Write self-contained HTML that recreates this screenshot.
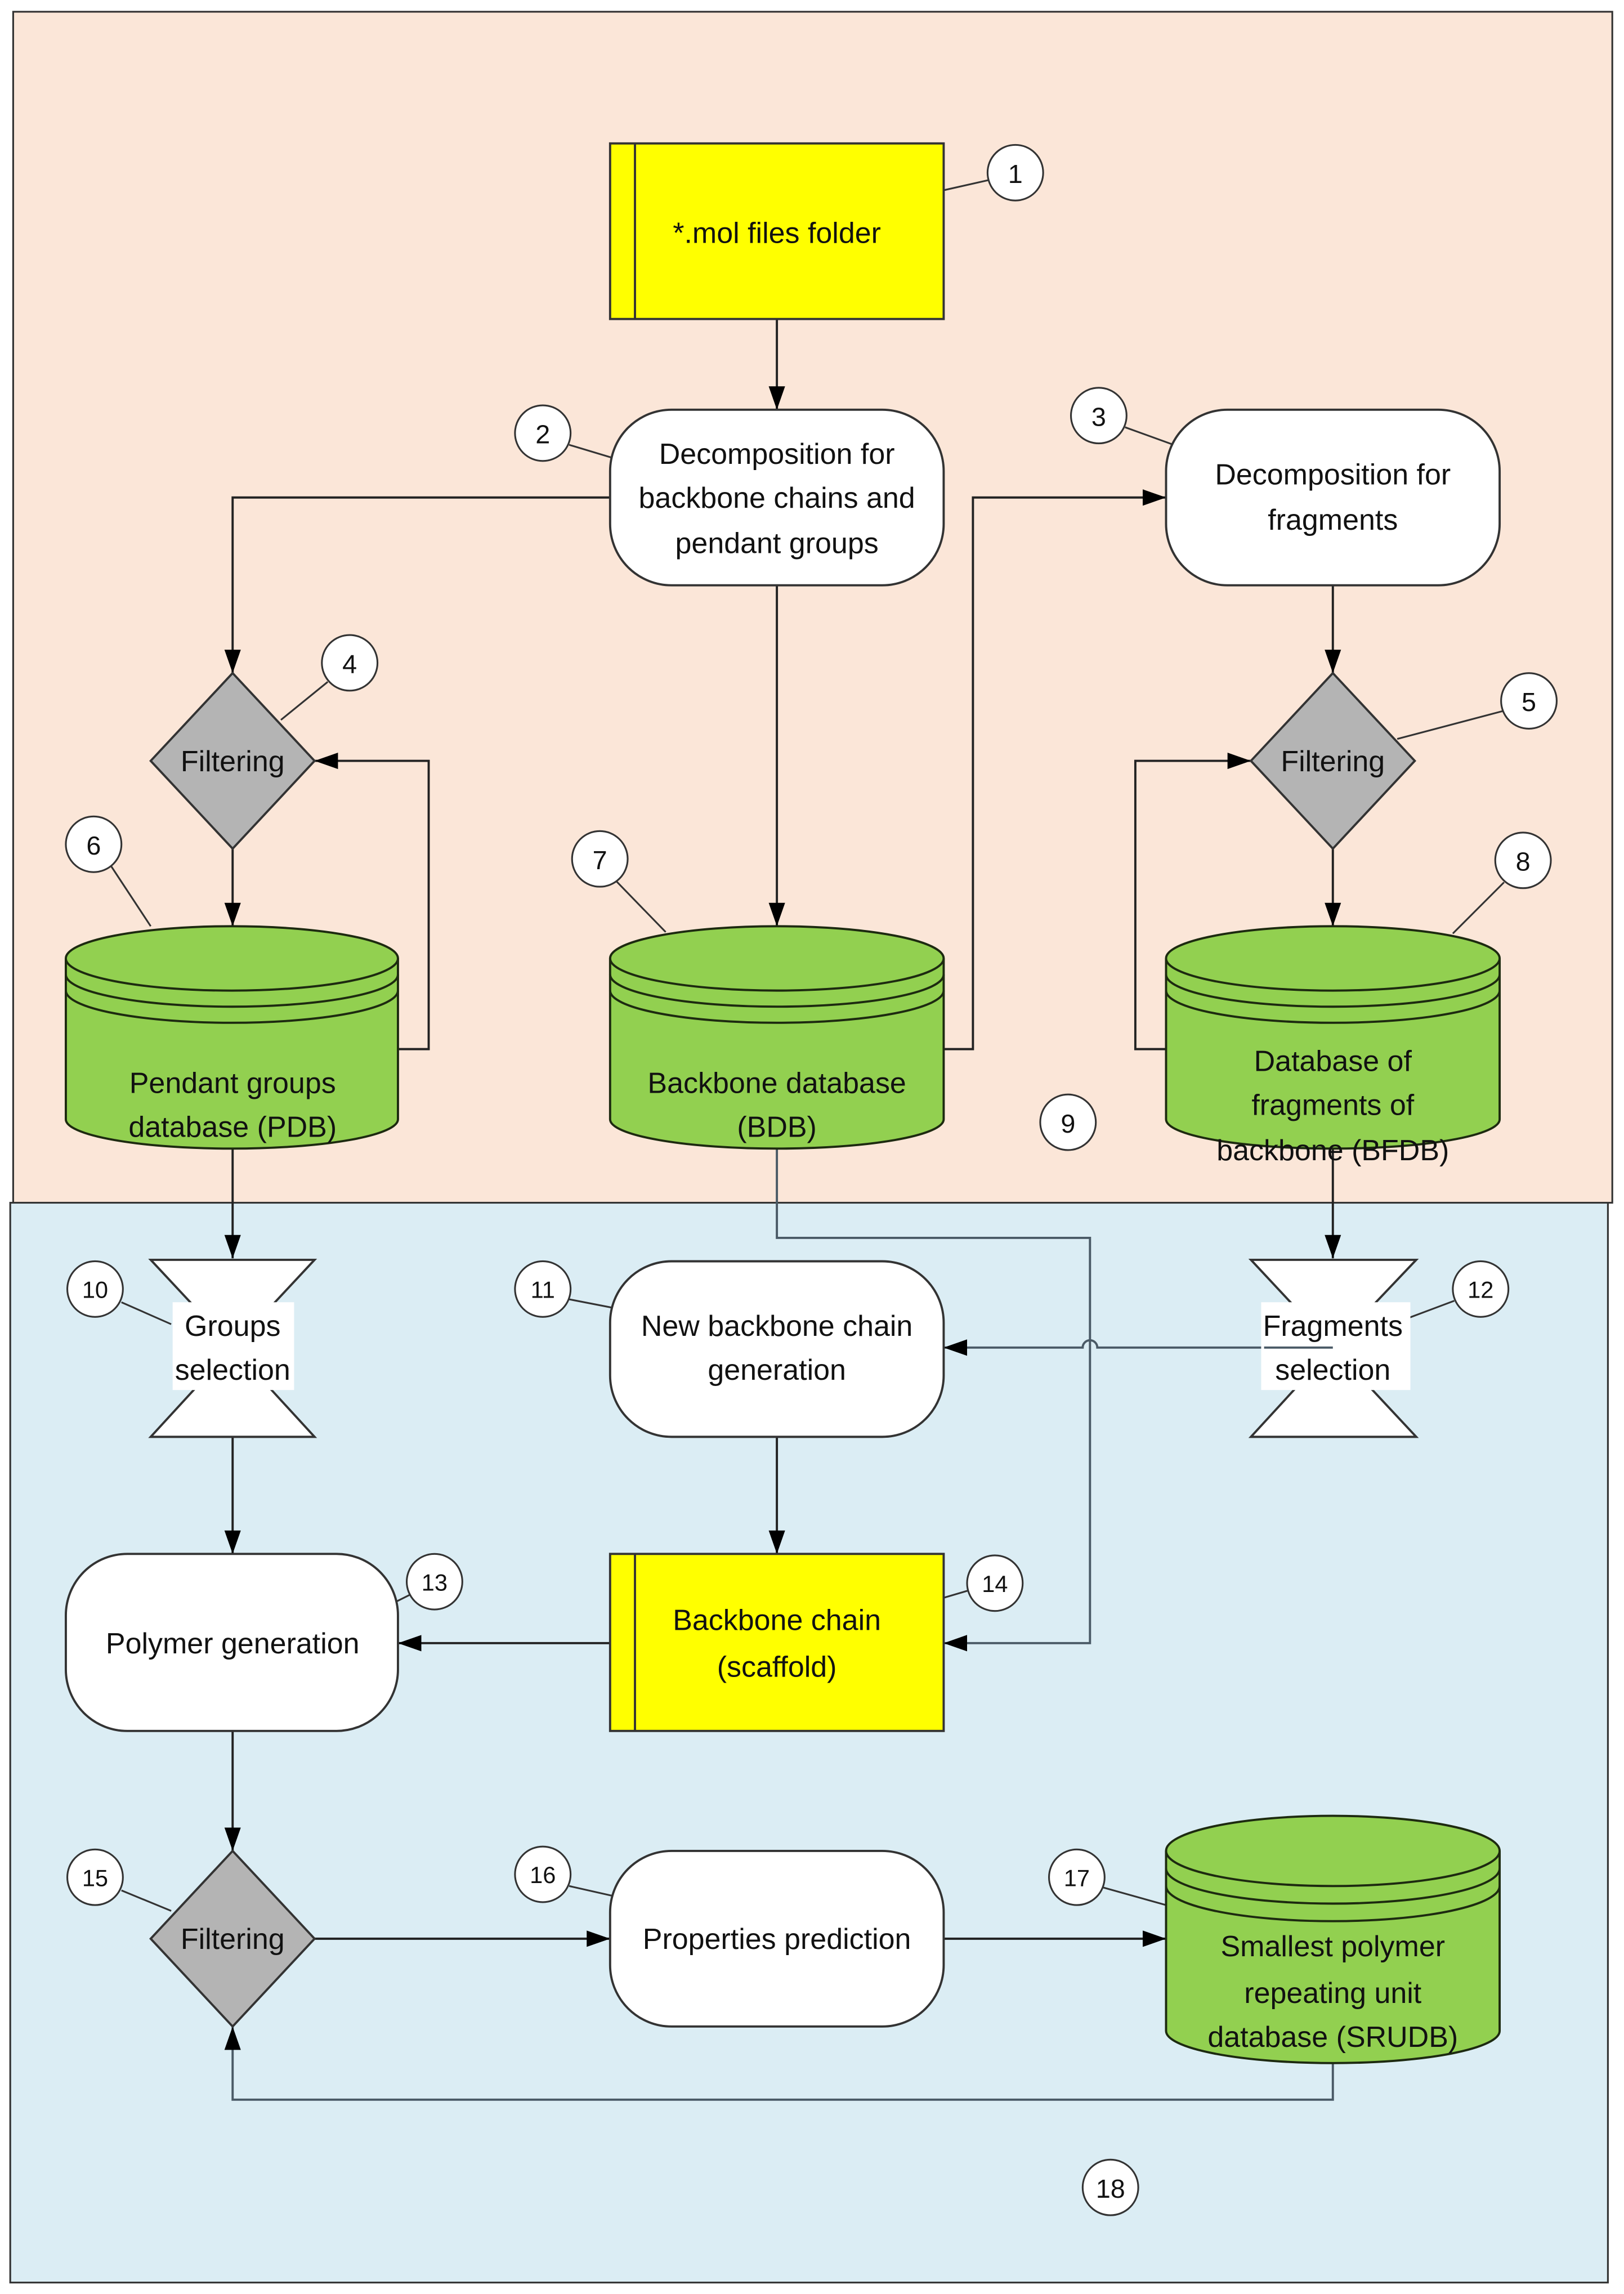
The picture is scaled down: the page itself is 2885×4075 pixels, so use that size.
<!DOCTYPE html>
<html><head><meta charset="utf-8"><style>html,body{margin:0;padding:0;background:#fff}svg{display:block}text{font-family:"Liberation Sans",sans-serif;fill:#111}</style></head>
<body>
<svg width="2885" height="4075" viewBox="0 0 1110 1567.8" xmlns="http://www.w3.org/2000/svg">
<defs>
<marker id="a" viewBox="0 0 10 10" refX="10" refY="5" markerWidth="6" markerHeight="6" orient="auto" markerUnits="userSpaceOnUse"><path d="M0,0 L10,5 L0,10z" fill="#000"/></marker>
<marker id="b" viewBox="0 0 10 10" refX="10" refY="5" markerWidth="16" markerHeight="16" orient="auto" markerUnits="userSpaceOnUse"><path d="M0,1.5 L10,5 L0,8.5z" fill="#000"/></marker>
</defs>
<rect x="0" y="0" width="1110" height="1568" fill="#fff"/>
<rect x="9" y="8" width="1093" height="814" fill="#fbe6d8" stroke="#333" stroke-width="1.2"/>
<rect x="7" y="822" width="1092" height="738" fill="#dbedf4" stroke="#333" stroke-width="1.2"/>

<g fill="none" stroke="#222" stroke-width="1.5">
<!-- connectors top -->
<path d="M531,218 V280" marker-end="url(#b)"/>
<path d="M417,340 H159 V460" marker-end="url(#b)"/>
<path d="M159,580 V633" marker-end="url(#b)"/>
<path d="M272,717 H293 V520 H215" marker-end="url(#b)"/>
<path d="M531,400 V633" marker-end="url(#b)"/>
<path d="M645,717 H665 V340 H797" marker-end="url(#b)"/>
<path d="M911,400 V460" marker-end="url(#b)"/>
<path d="M911,580 V633" marker-end="url(#b)"/>
<path d="M797,717 H776 V520 H855" marker-end="url(#b)"/>
<!-- bottom -->
<path d="M159,785 V860" marker-end="url(#b)"/>
<path d="M911,785 V860" marker-end="url(#b)"/>
<path d="M531,785 V846 H745 V1123 H645" marker-end="url(#b)" stroke="#4a5a66"/>
<path d="M911,921 H750 A5,5 0 0 0 740,921 H645" marker-end="url(#b)" stroke="#4a5a66"/>
<path d="M159,982 V1062" marker-end="url(#b)"/>
<path d="M531,982 V1062" marker-end="url(#b)"/>
<path d="M417,1123 H272" marker-end="url(#b)"/>
<path d="M159,1183 V1265" marker-end="url(#b)"/>
<path d="M215,1325 H417" marker-end="url(#b)"/>
<path d="M645,1325 H797" marker-end="url(#b)"/>
<path d="M911,1410 V1435 H159 V1385" marker-end="url(#b)" stroke="#4a5a66"/>
<!-- leaders -->
<g stroke-width="1.2" stroke="#333">
<path d="M645,130 L676,123"/><path d="M389,304 L419,313"/><path d="M769,292 L805,305"/>
<path d="M224,466 L192,492"/><path d="M1027,486 L955,505"/>
<path d="M76,592 L103,633"/><path d="M421,602 L455,637"/><path d="M1028,603 L993,638"/>
<path d="M83,890 L117,905"/><path d="M389,888 L420,894"/><path d="M994,889 L962,901"/>
<path d="M280,1090 L268,1096"/><path d="M662,1087 L645,1092"/>
<path d="M83,1292 L117,1306"/><path d="M389,1289 L420,1296"/><path d="M754,1290 L797,1302"/>
</g>
</g>

<!-- shapes -->
<g stroke="#333" stroke-width="1.5">
<rect x="417" y="98" width="228" height="120" fill="#ffff00"/><line x1="434" y1="98" x2="434" y2="218"/>
<rect x="417" y="280" width="228" height="120" rx="42" fill="#fff"/>
<rect x="797" y="280" width="228" height="120" rx="42" fill="#fff"/>
<path d="M159,460 L215,520 L159,580 L103,520z" fill="#b4b4b4"/>
<path d="M911,460 L967,520 L911,580 L855,520z" fill="#b4b4b4"/>
<path d="M159,1265 L215,1325 L159,1385 L103,1325z" fill="#b4b4b4"/>
<path d="M103,861 H215 L159,921 L215,982 H103 L159,921z" fill="#fff"/>
<path d="M855,861 H968 L911,921 L968,982 H855 L911,921z" fill="#fff"/>
<rect x="417" y="862" width="228" height="120" rx="42" fill="#fff"/>
<rect x="45" y="1062" width="227" height="121" rx="42" fill="#fff"/>
<rect x="417" y="1062" width="228" height="121" fill="#ffff00"/><line x1="434" y1="1062" x2="434" y2="1183"/>
<rect x="417" y="1265" width="228" height="120" rx="42" fill="#fff"/>
</g>
<!-- cylinders -->
<g stroke="#1d2a10" stroke-width="1.5" fill="#92d050">
<g id="c1">
<path d="M45,655 A113.5,22 0 0 1 272,655 V765 A113.5,20 0 0 1 45,765 Z"/>
<path d="M45,655 A113.5,22 0 0 0 272,655" fill="none"/>
<path d="M45,666 A113.5,22 0 0 0 272,666" fill="none"/>
<path d="M45,677 A113.5,22 0 0 0 272,677" fill="none"/>
</g>
<path d="M417,655 A114,22 0 0 1 645,655 V765 A114,20 0 0 1 417,765 Z"/>
<path d="M417,655 A114,22 0 0 0 645,655" fill="none"/>
<path d="M417,666 A114,22 0 0 0 645,666" fill="none"/>
<path d="M417,677 A114,22 0 0 0 645,677" fill="none"/>
<path d="M797,655 A114,22 0 0 1 1025,655 V765 A114,20 0 0 1 797,765 Z"/>
<path d="M797,655 A114,22 0 0 0 1025,655" fill="none"/>
<path d="M797,666 A114,22 0 0 0 1025,666" fill="none"/>
<path d="M797,677 A114,22 0 0 0 1025,677" fill="none"/>
<path d="M797,1265 A114,24 0 0 1 1025,1265 V1388 A114,22 0 0 1 797,1388 Z"/>
<path d="M797,1265 A114,24 0 0 0 1025,1265" fill="none"/>
<path d="M797,1277 A114,24 0 0 0 1025,1277" fill="none"/>
<path d="M797,1289 A114,24 0 0 0 1025,1289" fill="none"/>
</g>
<!-- white label backgrounds on hourglasses -->
<rect x="118" y="890" width="83" height="60" fill="#fff"/>
<rect x="862" y="890" width="102" height="60" fill="#fff"/>
<path d="M911,921 H864" stroke="#4a5a66" stroke-width="1.5"/>

<!-- text -->
<g font-size="20" text-anchor="middle">
<text x="531" y="166">*.mol files folder</text>
<text x="531" y="317">Decomposition for</text>
<text x="531" y="347">backbone chains and</text>
<text x="531" y="378">pendant groups</text>
<text x="911" y="331">Decomposition for</text>
<text x="911" y="362">fragments</text>
<text x="159" y="527">Filtering</text>
<text x="911" y="527">Filtering</text>
<text x="159" y="747">Pendant groups</text>
<text x="159" y="777">database (PDB)</text>
<text x="531" y="747">Backbone  database</text>
<text x="531" y="777">(BDB)</text>
<text x="911" y="732">Database of</text>
<text x="911" y="762">fragments of</text>
<text x="911" y="793">backbone (BFDB)</text>
<text x="159" y="913">Groups</text>
<text x="159" y="943">selection</text>
<text x="531" y="913">New backbone chain</text>
<text x="531" y="943">generation</text>
<text x="911" y="913">Fragments</text>
<text x="911" y="943">selection</text>
<text x="159" y="1130">Polymer generation</text>
<text x="531" y="1114">Backbone chain</text>
<text x="531" y="1146">(scaffold)</text>
<text x="159" y="1332">Filtering</text>
<text x="531" y="1332">Properties prediction</text>
<text x="911" y="1337">Smallest polymer</text>
<text x="911" y="1369">repeating unit</text>
<text x="911" y="1399">database (SRUDB)</text>
</g>
<!-- numbered circles -->
<g stroke="#333" stroke-width="1.2" fill="#fff">
<circle cx="694" cy="118" r="19"/><circle cx="371" cy="296" r="19"/><circle cx="751" cy="284" r="19"/>
<circle cx="239" cy="453" r="19"/><circle cx="1045" cy="479" r="19"/><circle cx="64" cy="577" r="19"/>
<circle cx="410" cy="587" r="19"/><circle cx="1041" cy="588" r="19"/><circle cx="730" cy="767" r="19"/>
<circle cx="65" cy="881" r="19"/><circle cx="371" cy="881" r="19"/><circle cx="1012" cy="881" r="19"/>
<circle cx="297" cy="1081" r="19"/><circle cx="680" cy="1082" r="19"/><circle cx="65" cy="1283" r="19"/>
<circle cx="371" cy="1281" r="19"/><circle cx="736" cy="1283" r="19"/><circle cx="759" cy="1495" r="19"/>
</g>
<g font-size="18" text-anchor="middle">
<text x="694" y="125">1</text><text x="371" y="303">2</text><text x="751" y="291">3</text>
<text x="239" y="460">4</text><text x="1045" y="486">5</text><text x="64" y="584">6</text>
<text x="410" y="594">7</text><text x="1041" y="595">8</text><text x="730" y="774">9</text>
<g font-size="16"><text x="65" y="887">10</text><text x="371" y="887">11</text><text x="1012" y="887">12</text>
<text x="297" y="1087">13</text><text x="680" y="1088">14</text><text x="65" y="1289">15</text>
<text x="371" y="1287">16</text><text x="736" y="1289">17</text></g>
<text x="759" y="1502">18</text>
</g>
</svg>
</body></html>
